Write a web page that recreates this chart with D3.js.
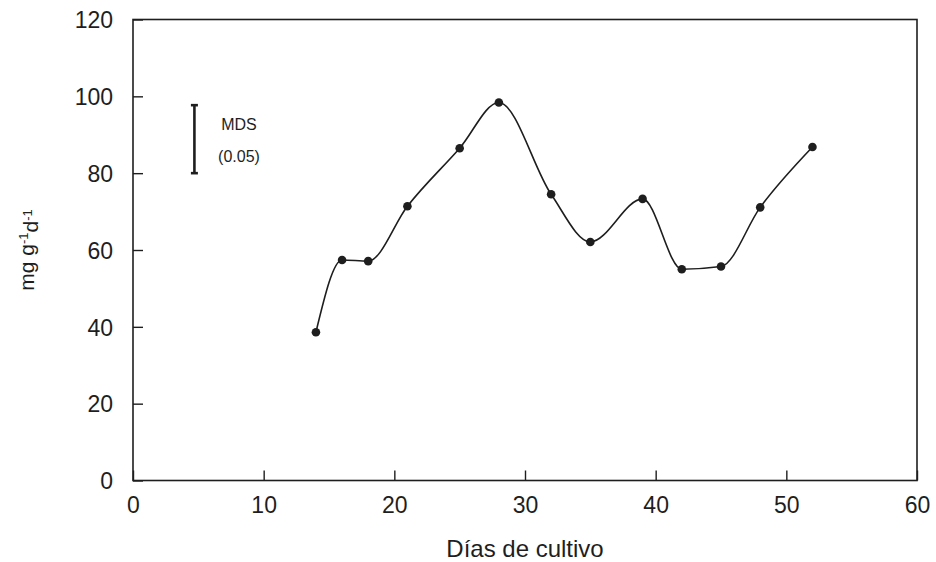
<!DOCTYPE html>
<html>
<head>
<meta charset="utf-8">
<script src="https://cdn.jsdelivr.net/npm/d3@7"></script>
<style>
  body { margin: 0; background: #fff; }
  svg { display: block; font-family: "Liberation Sans", Arial, sans-serif; }
</style>
</head>
<body>
<div id="chart"></div>
<script>
// dias de cultivo vs tasa (mg g-1 d-1)
var dias = [14, 16, 18, 21, 25, 28, 32, 35, 39, 42, 45, 48, 52];
var tasa = [38.6, 57.4, 57.1, 71.4, 86.5, 98.4, 74.5, 62.1, 73.3, 55.0, 55.7, 71.1, 86.8];
var xTicks = [0, 10, 20, 30, 40, 50, 60];
var yTicks = [0, 20, 40, 60, 80, 100, 120];
// barra MDS (0.05)
var mdsDia = 4.7;
var mdsRange = [80, 97.7];

var width = 936, height = 562;
var ink = "#1e1e1e";

var svg = d3.select("#chart")
    .append("svg")
    .attr("width", width)
    .attr("height", height);

var x = d3.scaleLinear().domain([0, 60]).range([133, 917]);
var y = d3.scaleLinear().domain([0, 120]).range([480.5, 19.5]);

// frame
svg.append("rect")
    .attr("x", x(0))
    .attr("y", y(120))
    .attr("width", x(60) - x(0))
    .attr("height", y(0) - y(120))
    .attr("fill", "none")
    .attr("stroke", ink)
    .attr("stroke-width", 1.6);

// axes, ticks pointing inward
var xAxis = svg.append("g")
    .attr("transform", "translate(0," + y(0) + ")")
    .call(d3.axisBottom(x).tickValues(xTicks).tickSize(-10).tickPadding(16));

var yAxis = svg.append("g")
    .attr("transform", "translate(" + x(0) + ",0)")
    .call(d3.axisLeft(y).tickValues(yTicks).tickSize(-10).tickPadding(20));

[xAxis, yAxis].forEach(function (g) {
    g.select(".domain").remove();
    g.selectAll(".tick line").attr("stroke", ink).attr("stroke-width", 1.4);
    g.selectAll(".tick text")
        .attr("fill", ink)
        .style("font-size", "23px")
        .style("font-family", "'Liberation Sans', Arial, sans-serif");
});
xAxis.selectAll(".tick text").attr("dy", "0.71em");
yAxis.selectAll(".tick text").attr("dy", "0.36em");

// axis titles
svg.append("text")
    .attr("x", (x(0) + x(60)) / 2)
    .attr("y", 557)
    .attr("text-anchor", "middle")
    .attr("fill", ink)
    .style("font-size", "24px")
    .text("Días de cultivo");

var ylab = svg.append("text")
    .attr("transform", "translate(34,250) rotate(-90)")
    .attr("text-anchor", "middle")
    .attr("fill", ink)
    .style("font-size", "21px");
ylab.append("tspan").text("mg g");
ylab.append("tspan").attr("dy", "-0.5em").style("font-size", "13px").text("-1");
ylab.append("tspan").attr("dy", "0.5em").text("d");
ylab.append("tspan").attr("dy", "-0.5em").style("font-size", "13px").text("-1");

// MDS bar
var mds = svg.append("g");
mds.append("line")
    .attr("x1", x(mdsDia)).attr("x2", x(mdsDia))
    .attr("y1", y(mdsRange[0])).attr("y2", y(mdsRange[1]))
    .attr("stroke", ink).attr("stroke-width", 2.6);
mdsRange.forEach(function (v) {
    mds.append("line")
        .attr("x1", x(mdsDia) - 3.5).attr("x2", x(mdsDia) + 3.5)
        .attr("y1", y(v)).attr("y2", y(v))
        .attr("stroke", ink).attr("stroke-width", 2.6);
});
mds.append("text")
    .attr("x", 239).attr("y", 130)
    .attr("text-anchor", "middle")
    .attr("fill", ink)
    .style("font-size", "16px")
    .text("MDS");
mds.append("text")
    .attr("x", 239).attr("y", 162)
    .attr("text-anchor", "middle")
    .attr("fill", ink)
    .style("font-size", "16px")
    .text("(0.05)");

// curve + points
var pts = dias.map(function (d, i) { return [d, tasa[i]]; });

var line = d3.line()
    .x(function (d) { return x(d[0]); })
    .y(function (d) { return y(d[1]); })
    .curve(d3.curveMonotoneX);

svg.append("path")
    .datum(pts)
    .attr("d", line)
    .attr("fill", "none")
    .attr("stroke", ink)
    .attr("stroke-width", 1.6);

svg.selectAll("circle.pt")
    .data(pts)
    .enter().append("circle")
    .attr("class", "pt")
    .attr("cx", function (d) { return x(d[0]); })
    .attr("cy", function (d) { return y(d[1]); })
    .attr("r", 4.3)
    .attr("fill", ink);
</script>
</body>
</html>
